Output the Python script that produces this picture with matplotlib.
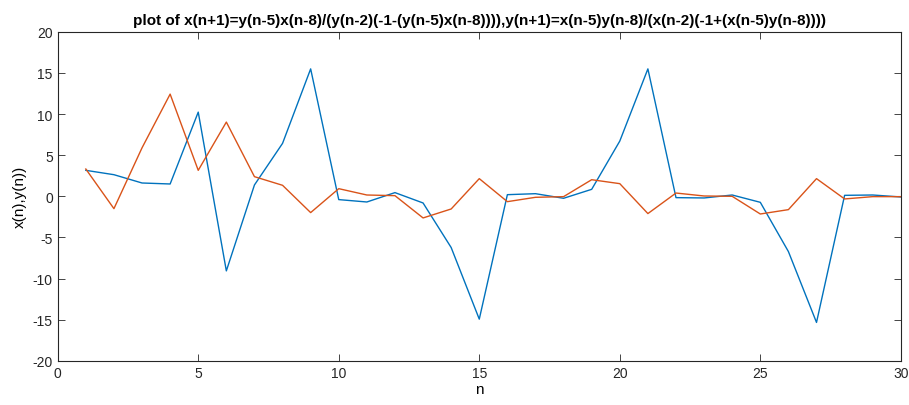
import numpy as np
import matplotlib
matplotlib.use('Agg')
import matplotlib.pyplot as plt

n = np.arange(1, 31)
x_vals = [3.16, 2.63, 1.62, 1.50, 10.24, -9.07, 1.38, 6.44, 15.5, -0.40,
          -0.69, 0.45, -0.81, -6.23, -14.94, 0.20, 0.32, -0.24, 0.85, 6.72,
          15.5, -0.16, -0.20, 0.16, -0.73, -6.72, -15.34, 0.12, 0.16, -0.08]
y_vals = [3.32, -1.50, 5.9, 12.43, 3.16, 9.03, 2.39, 1.34, -1.98, 0.93,
          0.16, 0.08, -2.63, -1.54, 2.15, -0.65, -0.12, -0.04, 2.02, 1.54,
          -2.1, 0.40, 0.04, 0.0, -2.15, -1.62, 2.15, -0.32, -0.04, -0.04]

plt.rcParams['font.family'] = ['Liberation Sans', 'DejaVu Sans']
plt.rcParams['axes.unicode_minus'] = False

fig = plt.figure(figsize=(9.09, 4.06), dpi=100)
ax = fig.add_axes([0.0635, 0.109, 0.9275, 0.81])
ax.plot(n, x_vals, color='#0072BD', lw=1.0)
ax.plot(n, y_vals, color='#D95319', lw=1.0)
ax.set_xlim(0, 30)
ax.set_ylim(-20, 20)
ax.set_xticks(np.arange(0, 31, 5))
ax.set_yticks(np.arange(-20, 21, 5))
ax.tick_params(direction='in', top=True, right=True, labelsize=10, length=5,
               width=0.6, colors='#262626', labelcolor='#262626')
for s in ax.spines.values():
    s.set_linewidth(0.8)
    s.set_color('#262626')
ax.set_xlabel('n', fontsize=11, labelpad=2)
ax.set_ylabel('x(n),y(n))', fontsize=11, labelpad=4)
ax.set_title('plot of x(n+1)=y(n-5)x(n-8)/(y(n-2)(-1-(y(n-5)x(n-8)))),'
             'y(n+1)=x(n-5)y(n-8)/(x(n-2)(-1+(x(n-5)y(n-8))))',
             fontsize=11, fontweight='bold', pad=6)
fig.savefig('out.png', dpi=100)
